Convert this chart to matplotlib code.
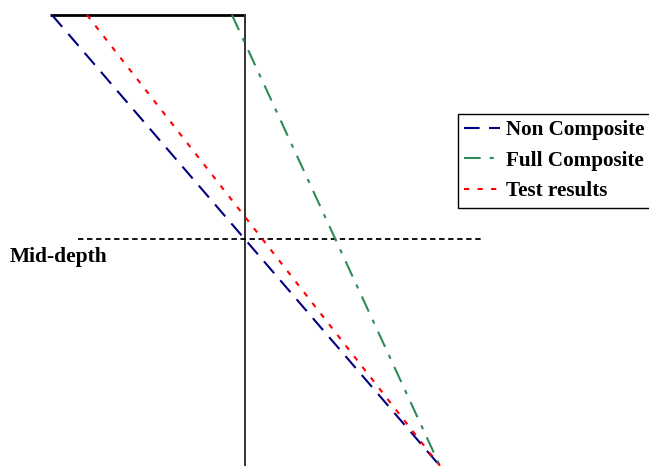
import matplotlib
matplotlib.use("Agg")
import matplotlib.pyplot as plt

# Data (arbitrary strain units relative to zero-strain axis; depth from top)
series_names = ["Non Composite", "Full Composite", "Test results"]
strain_top = [-193, -13, -158]
strain_bottom = [195, 195, 195]
depth_top = 0
depth_bottom = 451
mid_depth = 224
top_flange_strain = [-195, 0]
mid_line_extent = [-167, 238]

colors = ["#000080", "#2E8B57", "#FF0000"]
dashes = [(7.5, 4.5), (8, 4.3, 2, 4.3), (2.5, 4)]

fig = plt.figure(figsize=(6.49, 4.66), dpi=100)
ax = fig.add_axes([0, 0, 1, 1])
ax.set_xlim(-245, 404)
ax.set_ylim(451, -15)
ax.axis("off")

# top line and vertical zero line
ax.plot(top_flange_strain, [depth_top, depth_top], color="black", lw=2, solid_capstyle="butt")
ax.plot([0, 0], [depth_top, depth_bottom], color="#333333", lw=1.4)
# mid-depth line
ax.plot(mid_line_extent, [mid_depth, mid_depth], color="black", lw=1.3, dashes=(3, 2))
ax.text(-235, mid_depth + 18, "Mid-depth", family="Liberation Serif", fontweight="bold",
        fontsize=15.5, va="center", ha="left")

for name, st, sb, c, d in zip(series_names, strain_top, strain_bottom, colors, dashes):
    ax.plot([st, sb], [depth_top, depth_bottom], color=c, lw=1.5, dashes=d, label=name)

leg = ax.legend(loc="upper left", bbox_to_anchor=(458 / 649, 1 - 114 / 466),
                bbox_transform=fig.transFigure, frameon=True, fancybox=False,
                edgecolor="black", framealpha=1, borderaxespad=0, borderpad=0.3,
                handlelength=1.7, handletextpad=0.25, labelspacing=0.5,
                prop={"family": "Liberation Serif", "weight": "bold", "size": 15.2})
leg.get_frame().set_linewidth(1.0)

fig.savefig("out.png", dpi=100)
